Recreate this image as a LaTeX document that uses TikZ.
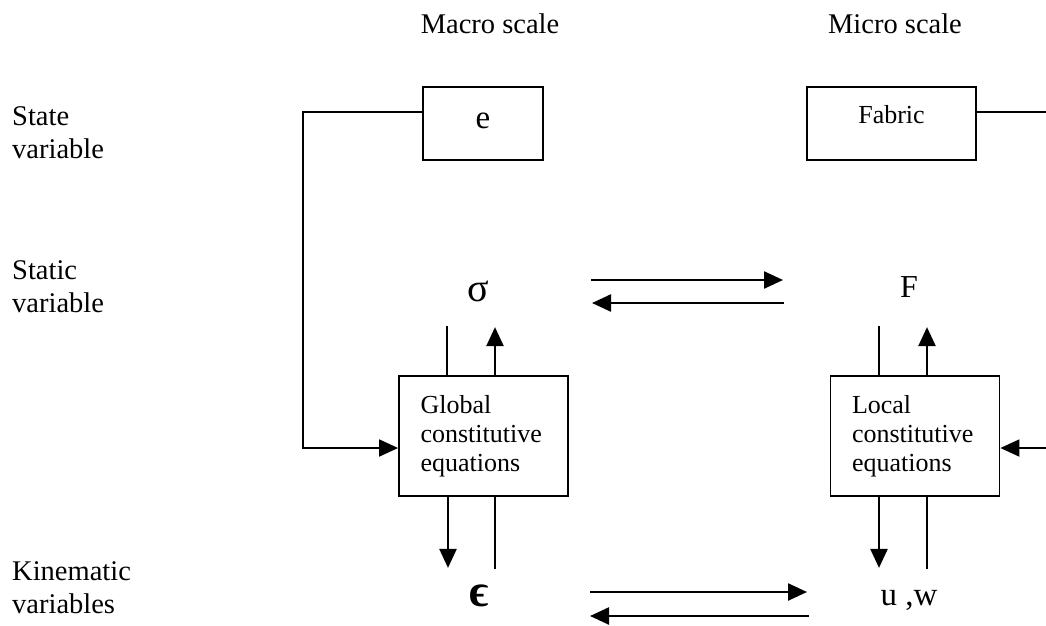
\documentclass[tikz,border=0pt]{standalone}
\usepackage{fontspec}
\setmainfont{Liberation Serif}
\usetikzlibrary{arrows.meta}
\begin{document}
\begin{tikzpicture}[x=1pt,y=-1pt,
  box/.style={draw,line width=1.8pt,inner sep=0pt},
  lbl/.style={anchor=north west,align=left,inner sep=0pt,font=\fontsize{28.5}{33}\selectfont},
  hdr/.style={anchor=base,inner sep=0pt,font=\fontsize{28.5}{33}\selectfont},
  eqbox/.style={box,minimum width=169pt,minimum height=120pt,text width=126pt,align=left,inner xsep=21pt,font=\fontsize{26}{29}\selectfont},
  var/.style={inner sep=0pt,font=\fontsize{32}{36}\selectfont},
  tip/.style={-{Triangle[length=19pt,width=17pt]}},
  arr/.style={line width=2.4pt,tip},
  thinline/.style={line width=1.3pt},
  link/.style={line width=1.8pt},
]
\useasboundingbox (0,0) rectangle (1046,625);

% headers
\node[hdr] (macro) at (490,33) {Macro scale};
\node[hdr] (micro) at (895,33) {Micro scale};

% row labels
\node[lbl] (state) at (12,106) {State\\variable};
\node[lbl] (static) at (12,260) {Static\\variable};
\node[lbl] (kin) at (12,561) {Kinematic\\variables};

% boxes
\node[box,minimum width=120pt,minimum height=73pt,font=\fontsize{33}{36}\selectfont,text height=20pt,text depth=11pt] (ebox) at (483,123.5) {e};
\node[box,minimum width=169pt,minimum height=73pt,font=\fontsize{26}{29}\selectfont,text height=18pt,text depth=19pt] (fabric) at (891.5,123.5) {Fabric};
\node[eqbox] (global) at (483.5,436) {Global\\constitutive\\equations};
\node[eqbox] (local) at (915,436) {Local\\constitutive\\equations};

% variables
\node[var,font=\fontsize{40}{40}\selectfont] (sigma) at (478,291) {σ};
\node[var] (F) at (909,287) {F};
\node[var,font=\fontsize{46}{46}\selectfont\bfseries] (eps) at (479,596) {ϵ};
\node[var,font=\fontsize{33}{36}\selectfont] (uw) at (909,600) {u ,w};

% free ends
\coordinate (fbL) at (303,448);
\coordinate (fabR) at (1046,112);
\coordinate (locR) at (1046,448);
\coordinate (sfA) at (591,280);
\coordinate (sfB) at (783,280);
\coordinate (fsA) at (784,303);
\coordinate (fsB) at (592,303);
\coordinate (euA) at (590,592);
\coordinate (euB) at (807,592);
\coordinate (ueA) at (809,616);
\coordinate (ueB) at (590,616);

% feedback lines
\draw[link,tip] ([yshift=11.5pt]ebox.west) -| (fbL) -- ([yshift=-12pt]global.west);
\draw[link] ([yshift=11.5pt]fabric.east) -- (fabR);
\draw[link,tip] (locR) -- ([yshift=-12pt]local.east);

% global verticals
\draw[thinline] ([xshift=-36.5pt]global.north) -- ++(0,-49);
\draw[arr] ([xshift=11.5pt]global.north) -- ++(0,-48);
\draw[arr] ([xshift=-35.5pt]global.south) -- ++(0,71);
\draw[thinline] ([xshift=11.5pt]global.south) -- ++(0,72);

% local verticals
\draw[thinline] ([xshift=-36pt]local.north) -- ++(0,-49);
\draw[arr] ([xshift=12pt]local.north) -- ++(0,-48);
\draw[arr] ([xshift=-36pt]local.south) -- ++(0,71);
\draw[thinline] ([xshift=12pt]local.south) -- ++(0,72);

% exchange arrows
\draw[arr] (sfA) -- (sfB);
\draw[arr] (fsA) -- (fsB);
\draw[arr] (euA) -- (euB);
\draw[arr] (ueA) -- (ueB);
\end{tikzpicture}
\end{document}
